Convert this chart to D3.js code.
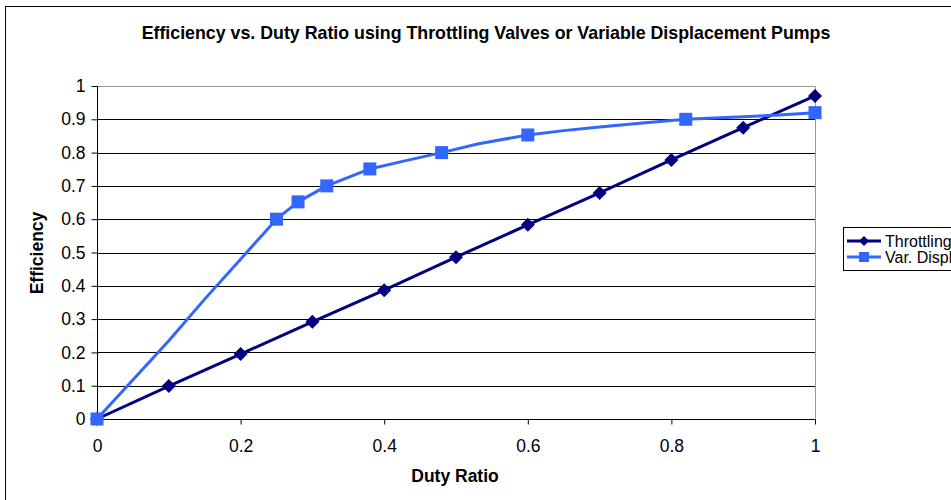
<!DOCTYPE html>
<html>
<head>
<meta charset="utf-8">
<script src="https://cdn.jsdelivr.net/npm/d3@7"></script>
<style>
  html, body { margin: 0; padding: 0; background: #fff; }
  svg { display: block; font-family: "Liberation Sans", Arial, sans-serif; }
</style>
</head>
<body>
<svg id="chart" width="951" height="500"></svg>
<script>
// Duty ratio vs efficiency for a throttling valve system
const throttlingDuty = [0, 0.1, 0.2, 0.3, 0.4, 0.5, 0.6, 0.7, 0.8, 0.9, 1.0];
const throttlingEff  = [0, 0.099, 0.195, 0.292, 0.387, 0.486, 0.583, 0.679, 0.778, 0.875, 0.970];

// Variable displacement pump; only some points carry a marker
const varDuty   = [0, 0.1, 0.15, 0.2, 0.25, 0.28, 0.32, 0.38, 0.43, 0.48, 0.53, 0.6, 0.65, 0.7, 0.76, 0.82, 0.9, 0.95, 1.0];
const varEff    = [0, 0.235, 0.36, 0.48, 0.60, 0.652, 0.70, 0.751, 0.776, 0.80, 0.826, 0.853, 0.866, 0.877, 0.889, 0.90, 0.908, 0.913, 0.92];
const varMarked = [true, false, false, false, true, true, true, true, false, true, false, true, false, false, false, true, false, false, true];

const xTicks = [0, 0.2, 0.4, 0.6, 0.8, 1];
const yTicks = [0, 0.1, 0.2, 0.3, 0.4, 0.5, 0.6, 0.7, 0.8, 0.9, 1];

const seriesNames = ["Throttling Valves", "Var. Displacement Pumps"];
const colors = ["#000080", "#3366ff"];

const svg = d3.select("#chart");

// chart frame
svg.append("rect")
  .attr("x", 5.5).attr("y", 6.5)
  .attr("width", 1000).attr("height", 600)
  .attr("fill", "#fff").attr("stroke", "#000").attr("stroke-width", 1);

const plot = { left: 97, right: 815, top: 86, bottom: 419 };

const x = d3.scaleLinear().domain([0, 1]).range([plot.left, plot.right]);
const y = d3.scaleLinear().domain([0, 1]).range([plot.bottom, plot.top]);

// horizontal gridlines
svg.append("g")
  .selectAll("line")
  .data(yTicks.filter(d => d > 0 && d < 1))
  .join("line")
  .attr("x1", plot.left).attr("x2", plot.right)
  .attr("y1", d => Math.round(y(d)) + 0.5).attr("y2", d => Math.round(y(d)) + 0.5)
  .attr("stroke", "#000").attr("stroke-width", 1);

// plot-area border (top and right)
svg.append("path")
  .attr("d", `M${plot.left},${plot.top + 0.5}H${plot.right + 0.5}V${plot.bottom}`)
  .attr("fill", "none").attr("stroke", "#999").attr("stroke-width", 1);

// axes
const fmt = d => String(+d.toFixed(1));
const xAxis = d3.axisBottom(x).tickValues(xTicks).tickSize(5).tickPadding(15).tickFormat(fmt);
const yAxis = d3.axisLeft(y).tickValues(yTicks).tickSize(6).tickPadding(6).tickFormat(fmt);

const gx = svg.append("g")
  .attr("transform", `translate(0,${Math.round(y(0)) + 0.5})`)
  .call(xAxis);
const gy = svg.append("g")
  .attr("transform", `translate(${plot.left + 0.5},0)`)
  .call(yAxis);

[gx, gy].forEach(g => {
  g.select(".domain").attr("stroke", "#000").attr("stroke-width", 1);
  g.selectAll(".tick line").attr("stroke", "#000");
  g.selectAll(".tick text")
    .attr("fill", "#000")
    .style("font-family", "'Liberation Sans', Arial, sans-serif")
    .style("font-size", "17.5px");
});
gx.select(".domain").attr("d", `M${plot.left},0H${plot.right + 0.5}`);
gy.select(".domain").attr("d", `M0,${plot.bottom}V${plot.top}`);

// lines
const line = d3.line().x(d => x(d[0])).y(d => y(d[1]));

const throttlingPts = throttlingDuty.map((d, i) => [d, throttlingEff[i]]);
const varPts = varDuty.map((d, i) => [d, varEff[i]]);

svg.append("path")
  .datum(throttlingPts)
  .attr("d", line)
  .attr("fill", "none").attr("stroke", colors[0]).attr("stroke-width", 3)
  .attr("stroke-linejoin", "round");

svg.append("path")
  .datum(varPts)
  .attr("d", line)
  .attr("fill", "none").attr("stroke", colors[1]).attr("stroke-width", 3)
  .attr("stroke-linejoin", "round");

// markers
const diamond = s => `M0,${-s}L${s},0L0,${s}L${-s},0Z`;

svg.append("g")
  .selectAll("path")
  .data(throttlingPts)
  .join("path")
  .attr("transform", d => `translate(${x(d[0])},${y(d[1])})`)
  .attr("d", diamond(7))
  .attr("fill", colors[0]);

svg.append("g")
  .selectAll("rect")
  .data(varPts.filter((d, i) => varMarked[i]))
  .join("rect")
  .attr("x", d => x(d[0]) - 6.5)
  .attr("y", d => y(d[1]) - 6.5)
  .attr("width", 13).attr("height", 13)
  .attr("fill", colors[1]);

// titles
svg.append("text")
  .attr("x", 486).attr("y", 39)
  .attr("text-anchor", "middle")
  .style("font-size", "17.8px").style("font-weight", "bold")
  .text("Efficiency vs. Duty Ratio using Throttling Valves or Variable Displacement Pumps");

svg.append("text")
  .attr("x", 455).attr("y", 482)
  .attr("text-anchor", "middle")
  .style("font-size", "17.5px").style("font-weight", "bold")
  .text("Duty Ratio");

svg.append("text")
  .attr("transform", "translate(43,253) rotate(-90)")
  .attr("text-anchor", "middle")
  .style("font-size", "17.5px").style("font-weight", "bold")
  .text("Efficiency");

// legend
const legend = svg.append("g").attr("transform", "translate(843,227)");
legend.append("rect")
  .attr("x", 0.5).attr("y", 0.5).attr("width", 200).attr("height", 43)
  .attr("fill", "#fff").attr("stroke", "#000");

seriesNames.forEach((name, i) => {
  const ly = 14 + i * 16;
  const g = legend.append("g").attr("transform", `translate(0,${ly})`);
  g.append("line")
    .attr("x1", 4).attr("x2", 38).attr("y1", 0).attr("y2", 0)
    .attr("stroke", colors[i]).attr("stroke-width", 3);
  if (i === 0) {
    g.append("path").attr("transform", "translate(21,0)").attr("d", diamond(5)).attr("fill", colors[i]);
  } else {
    g.append("rect").attr("x", 16).attr("y", -5).attr("width", 10).attr("height", 10).attr("fill", colors[i]);
  }
  g.append("text")
    .attr("x", 42).attr("y", 6)
    .style("font-size", "16px")
    .text(name);
});
</script>
</body>
</html>
